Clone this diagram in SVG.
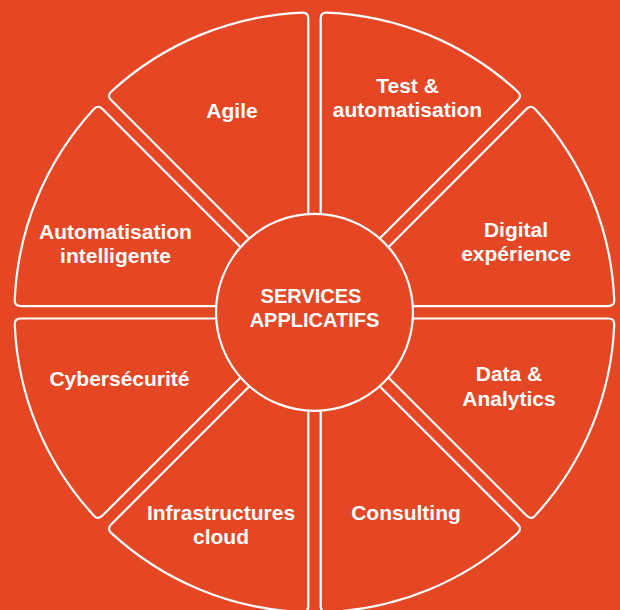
<svg xmlns="http://www.w3.org/2000/svg" width="620" height="610" viewBox="0 0 620 610">
<defs>
<style>
.seg{fill:none;stroke:#fff;stroke-width:2.2;stroke-linejoin:round}
.lbl{font-family:"Liberation Sans",Arial,sans-serif;font-weight:bold;font-size:21px;fill:#fff;text-anchor:middle}
.ctr{font-size:20px}
</style>
<path id="sector" d="M 31.892,-93.195 L 106.756,-273.935 Q 109.052,-279.478 103.446,-281.601 A 300 300 0 0 0 -103.446,-281.601 Q -109.052,-279.478 -106.756,-273.935 L -31.892,-93.195"/>
</defs>
<rect x="0" y="0" width="620" height="610" fill="#E54623"/>
<g id="connectors"></g>
<g id="agile"><use href="#sector" class="seg" transform="translate(314.5,312.3) rotate(-22.5)"/><text class="lbl" x="232" y="118">Agile</text></g>
<g id="test"><use href="#sector" class="seg" transform="translate(314.5,312.3) rotate(22.5)"/><text class="lbl" x="407.5" y="93">Test &amp;</text><text class="lbl" x="407.5" y="117">automatisation</text></g>
<g id="digital"><use href="#sector" class="seg" transform="translate(314.5,312.3) rotate(67.5)"/><text class="lbl" x="516" y="237">Digital</text><text class="lbl" x="516" y="261">expérience</text></g>
<g id="data"><use href="#sector" class="seg" transform="translate(314.5,312.3) rotate(112.5)"/><text class="lbl" x="509" y="381">Data &amp;</text><text class="lbl" x="509" y="406">Analytics</text></g>
<g id="consulting"><use href="#sector" class="seg" transform="translate(314.5,312.3) rotate(157.5)"/><text class="lbl" x="406" y="520">Consulting</text></g>
<g id="infra"><use href="#sector" class="seg" transform="translate(314.5,312.3) rotate(202.5)"/><text class="lbl" x="221" y="520">Infrastructures</text><text class="lbl" x="221" y="544">cloud</text></g>
<g id="cyber"><use href="#sector" class="seg" transform="translate(314.5,312.3) rotate(247.5)"/><text class="lbl" x="119.5" y="386">Cybersécurité</text></g>
<g id="automatisation"><use href="#sector" class="seg" transform="translate(314.5,312.3) rotate(292.5)"/><text class="lbl" x="115.5" y="239">Automatisation</text><text class="lbl" x="115.5" y="263">intelligente</text></g>
<g id="center"><circle cx="314.5" cy="312.3" r="98.5" class="seg"/><text class="lbl ctr" x="311" y="303">SERVICES</text><text class="lbl ctr" x="314.5" y="327">APPLICATIFS</text></g>
</svg>
